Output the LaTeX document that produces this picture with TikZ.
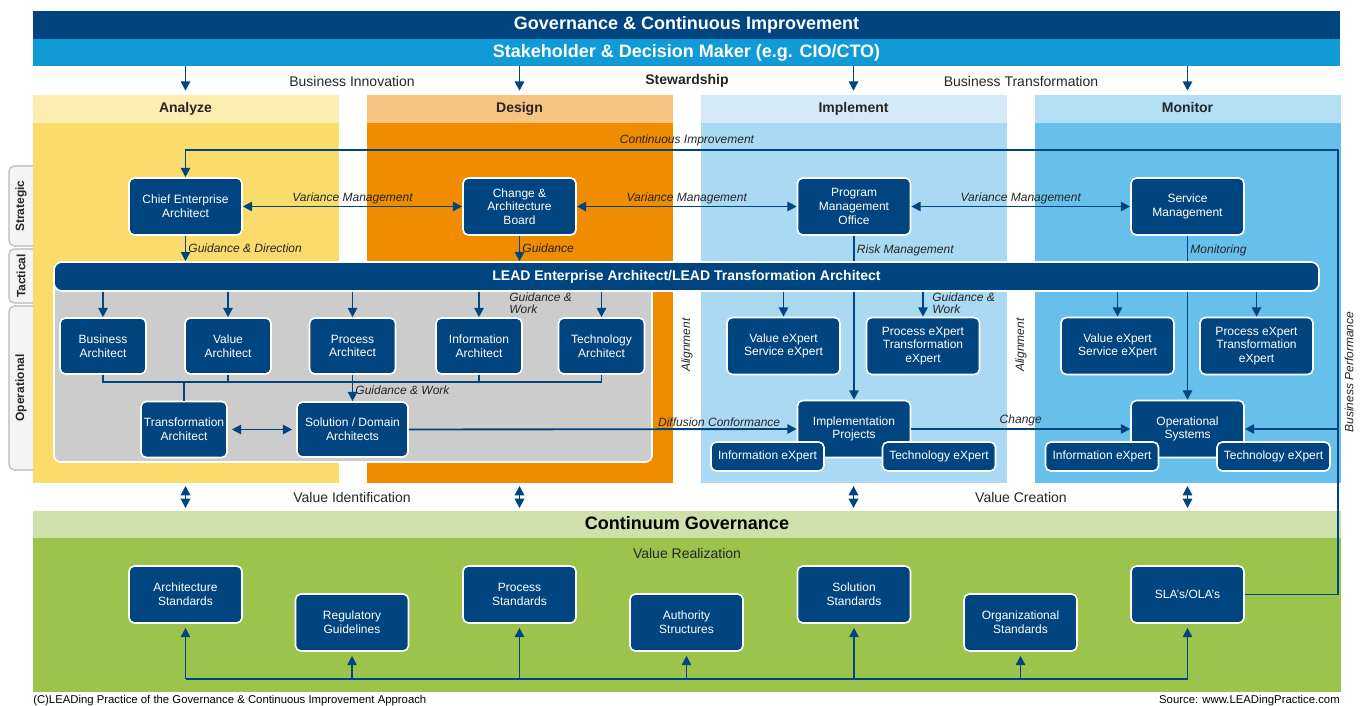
\documentclass[tikz,border=0pt]{standalone}
\usepackage{fontspec}
\setmainfont{Liberation Sans}
\usetikzlibrary{arrows.meta, positioning}

\definecolor{navy}{RGB}{0,69,128}
\definecolor{sky}{RGB}{16,154,214}
\definecolor{anahead}{RGB}{253,237,176}
\definecolor{anabody}{RGB}{250,220,108}
\definecolor{deshead}{RGB}{247,197,130}
\definecolor{desbody}{RGB}{239,140,0}
\definecolor{imphead}{RGB}{213,234,248}
\definecolor{impbody}{RGB}{170,217,243}
\definecolor{monhead}{RGB}{180,223,245}
\definecolor{monbody}{RGB}{103,192,236}
\definecolor{grnhead}{RGB}{205,225,169}
\definecolor{grnbody}{RGB}{156,196,77}
\definecolor{panel}{RGB}{204,204,204}
\definecolor{tabfill}{RGB}{244,244,244}
\definecolor{tabline}{RGB}{185,185,185}

\tikzset{
  unit/.style={draw=white, line width=1.2pt, fill=navy, rounded corners=4pt, text=white, align=center, inner sep=1pt, font=\fontsize{9}{10.3}\selectfont},
  role/.style={unit, minimum width=84.75pt, minimum height=42.75pt},
  arch/.style={unit, minimum width=64.5pt, minimum height=42pt},
  xpert/.style={unit, minimum width=84.75pt, minimum height=21.75pt},
  band/.style={inner sep=0pt, text=white, text height=10pt, text depth=2.5pt, font=\fontsize{13.5}{16}\selectfont\bfseries},
  colhead/.style={inner sep=0pt, minimum width=229.5pt, minimum height=21pt, text height=7.8pt, text depth=2.2pt, font=\fontsize{10.5}{12}\selectfont\bfseries, text=black!85},
  colbody/.style={inner sep=0pt, minimum width=229.5pt, minimum height=270pt},
  flow/.style={navy, line width=1.4pt},
  arr/.style={flow, -{Triangle[length=7pt,width=7pt]}},
  darr/.style={flow, {Triangle[length=7pt,width=7pt]}-{Triangle[length=7pt,width=7pt]}},
  lbl/.style={font=\fontsize{9}{9}\selectfont\itshape, text=black!85, inner sep=1.5pt},
  note/.style={font=\fontsize{10.5}{12}\selectfont, text=black!85},
  tab/.style={fill=tabfill, draw=tabline, line width=0.9pt, rounded corners=4pt},
  tabtext/.style={rotate=90, font=\fontsize{9}{10}\selectfont\bfseries, text=black!85}
}

\begin{document}
\begin{tikzpicture}[x=0.75pt, y=-0.75pt]
\useasboundingbox (0,0) rectangle (1363,706);

\node[band, fill=navy, minimum width=980.25pt, minimum height=21pt] (gov) at (686.5,25) {Governance \& Continuous Improvement};
\node[band, fill=sky, minimum width=980.25pt, minimum height=20.25pt] (sh) at (686.5,52.5) {Stakeholder \& Decision Maker (e.g. CIO/CTO)};

\filldraw[tab] (33,166) -- (9,166) -- (9,246) -- (33,246);
\filldraw[tab] (33,249) -- (9,249) -- (9,303) -- (33,303);
\filldraw[tab] (33,306) -- (9,306) -- (9,470) -- (33,470);
\node[tabtext] (tg1) at (21,206) {Strategic};
\node[tabtext] (tg2) at (21,276) {Tactical};
\node[tabtext] (tg3) at (21,388) {Operational};

\node[colhead, fill=anahead] (h1) at (185.5,109) {Analyze};
\node[colhead, fill=deshead] (h2) at (519.5,109) {Design};
\node[colhead, fill=imphead] (h3) at (853.5,109) {Implement};
\node[colhead, fill=monhead] (h4) at (1187.5,109) {Monitor};
\node[colbody, fill=anabody] (b1) at (185.5,303) {};
\node[colbody, fill=desbody] (b2) at (519.5,303) {};
\node[colbody, fill=impbody] (b3) at (853.5,303) {};
\node[colbody, fill=monbody] (b4) at (1187.5,303) {};

\foreach \n in {1,...,4} \draw[arr, shorten >=3pt] (sh.south -| h\n) -- (h\n.north);
\node[note] (bi) at (352,81) {Business Innovation};
\node[note, font=\fontsize{10.5}{12}\selectfont\bfseries] (sw) at (687,81) {Stewardship};
\node[note] (bt) at (1021,81) {Business Transformation};

\node[role] (s1) at (185.5,206.5) {Chief Enterprise\\Architect};
\node[role] (s2) at (519.5,206.5) {Change \&\\Architecture\\Board};
\node[role] (s3) at (854,206.5) {Program\\Management\\Office};
\node[role] (s4) at (1187.5,206.5) {Service\\Management};

\draw[darr] (s1) -- node[lbl, above]{Variance Management} (s2);
\draw[darr] (s2) -- node[lbl, above]{Variance Management} (s3);
\draw[darr] (s3) -- node[lbl, above]{Variance Management} (s4);

\node[role] (ip) at (854,429) {Implementation\\Projects};
\node[role] (os) at (1187.5,429) {Operational\\Systems};
\draw[arr] (s3.south) -- node[lbl, right, pos=0.09]{Risk Management} (ip.north);
\draw[arr] (s4.south) -- node[lbl, right, pos=0.09]{Monitoring} (os.north);
\node[xpert] (ix1) at (767.5,456.5) {Information eXpert};
\node[xpert] (tx1) at (939,456.5) {Technology eXpert};
\node[xpert] (ix2) at (1102,456.5) {Information eXpert};
\node[xpert] (tx2) at (1273.5,456.5) {Technology eXpert};

\filldraw[fill=panel, draw=white, line width=1.2pt, rounded corners=5pt] (54,280) rectangle (652,462);
\node[unit, minimum width=948.75pt, minimum height=21.75pt, rounded corners=6pt, font=\fontsize{10.5}{12}\selectfont\bfseries] (lead) at (686.5,276.5) {LEAD Enterprise Architect/LEAD Transformation Architect};

\draw[arr] (s1.south) -- node[lbl, right]{Guidance \& Direction} (s1.south |- lead.north);
\draw[arr] (s2.south) -- node[lbl, right]{Guidance} (s2.south |- lead.north);

\node[arch] (a1) at (103,346) {Business\\Architect};
\node[arch] (a2) at (228,346) {Value\\Architect};
\node[arch] (a3) at (352.5,346) {Process\\Architect};
\node[arch] (a4) at (479,346) {Information\\Architect};
\node[arch] (a5) at (601.5,346) {Technology\\Architect};
\node[arch] (t1) at (184,429.5) {Transformation\\Architect};
\node[unit, minimum width=83.25pt, minimum height=41.25pt] (sd) at (352.5,429.5) {Solution / Domain\\Architects};

\foreach \n in {1,...,5} \draw[arr] (lead.south -| a\n) -- (a\n.north);
\node[lbl, align=left, anchor=north west] (gw1) at (507,291) {Guidance \&\\Work};

\coordinate (jn) at (352.5,382);
\draw[flow] (a1.south) |- (jn) -| (a5.south);
\draw[flow] (a2.south) -- (a2.south |- jn);
\draw[flow] (a4.south) -- (a4.south |- jn);
\draw[flow] (t1.north) -- (t1.north |- jn);
\draw[arr] (a3.south) -- node[lbl, right, pos=0.6]{Guidance \& Work} (sd.north);
\draw[darr, shorten <=3pt, shorten >=3pt] (t1) -- (sd);
\draw[arr] (sd.east) -- node[lbl, above, pos=0.8]{Diffusion Conformance} (ip.west);

\node[role] (e1) at (783.5,346) {Value eXpert\\Service eXpert};
\node[role] (e2) at (923,346) {Process eXpert\\Transformation\\eXpert};
\node[role] (e3) at (1117.5,346) {Value eXpert\\Service eXpert};
\node[role] (e4) at (1256.5,346) {Process eXpert\\Transformation\\eXpert};
\foreach \n in {1,...,4} \draw[arr] (lead.south -| e\n) -- (e\n.north);
\node[lbl, align=left, anchor=north west] (gw2) at (930,291) {Guidance \&\\Work};

\draw[arr] (ip) -- node[lbl, above]{Change} (os);
\node[lbl, rotate=90] (al1) at (687,345) {Alignment};
\node[lbl, rotate=90] (al2) at (1021,345) {Alignment};

\node[band, fill=grnhead, text=black, minimum width=981pt, minimum height=20.25pt] (gh) at (687,524.5) {Continuum Governance};
\fill[grnbody] (33,538) rectangle (1341,692);
\node[note] (vr) at (687,553) {Value Realization};

\foreach \n in {1,...,4} \draw[darr, shorten <=2pt, shorten >=2pt] (b\n.south) -- (gh.north -| b\n);
\node[note] (vi) at (352,497) {Value Identification};
\node[note] (vc) at (1021,497) {Value Creation};

\node[role] (g1) at (185.5,594.5) {Architecture\\Standards};
\node[role] (g2) at (352,622.5) {Regulatory\\Guidelines};
\node[role] (g3) at (519.5,594.5) {Process\\Standards};
\node[role] (g4) at (686.5,622.5) {Authority\\Structures};
\node[role] (g5) at (854,594.5) {Solution\\Standards};
\node[role] (g6) at (1020.5,622.5) {Organizational\\Standards};
\node[role] (g7) at (1187.5,594.5) {SLA's/OLA's};

\coordinate (bl) at (686.5,679);
\draw[flow] (g1.south |- bl) -- (g7.south |- bl);
\foreach \n in {1,...,7} \draw[arr, shorten >=3pt] (g\n.south |- bl) -- (g\n.south);

\coordinate (ci) at (1338,150);
\draw[arr] (g7.east) -| (ci) -| (s1.north);
\draw[arr] (ci |- os) -- (os.east);
\node[lbl] (cil) at (687,140) {Continuous Improvement};
\node[lbl, rotate=90] (bp) at (1349,372) {Business Performance};

\node[font=\fontsize{8.5}{10}\selectfont, anchor=west, inner sep=0pt] (ft) at (33,701) {(C)LEADing Practice of the Governance \& Continuous Improvement Approach};
\node[font=\fontsize{8.5}{10}\selectfont, anchor=east, inner sep=0pt] (src) at (1340,701) {Source: www.LEADingPractice.com};
\end{tikzpicture}
\end{document}
